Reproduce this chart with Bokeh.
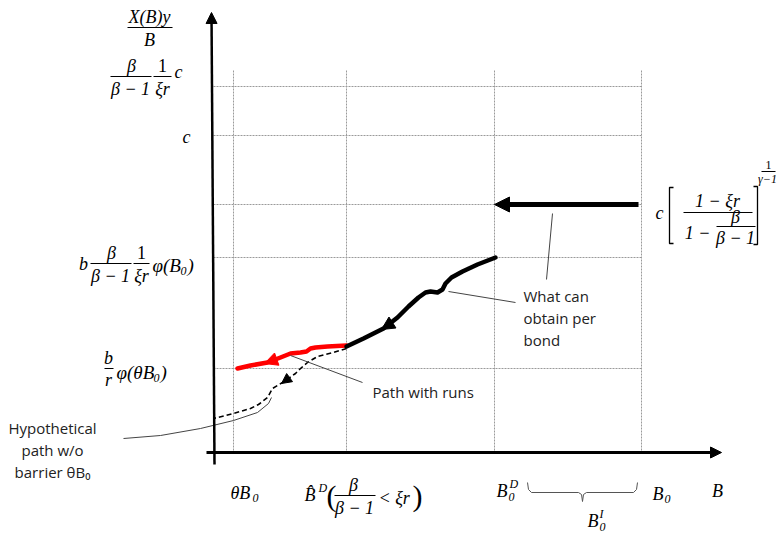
from bokeh.plotting import figure
from bokeh.models import Range1d, ColumnDataSource, Arrow, NormalHead
from bokeh.core.properties import value
from bokeh.embed import file_html
from bokeh.resources import INLINE

# ---------------- data (diagram coordinates) ----------------
GRID_X = [233, 346, 494, 641]          # theta*B0, B^D, B0^D, B0
GRID_Y = [86, 135, 204, 257, 368]      # levels on the vertical axis

BLACK_X = [495, 477, 462, 451, 445, 442, 437, 430, 425, 418, 408, 397, 383, 363, 346]
BLACK_Y = [257, 264, 271, 277, 283, 289, 292, 291, 292, 297, 306, 317, 328, 338, 346]

RED_X = [346, 327, 315, 310, 306, 300, 290, 280, 267, 250, 237]
RED_Y = [345, 346, 347, 348, 351, 352, 353, 357, 362, 365, 368]

DASH_X = [346, 333, 317, 307, 300, 295, 288, 282, 272, 267, 258, 250, 233, 213]
DASH_Y = [348, 352, 356, 362, 368, 373, 378, 382, 388, 397, 404, 408, 413, 418]

HYP_X = [123, 160, 200, 233, 257, 268, 271]
HYP_Y = [438, 435, 428, 420, 412, 403, 397]

MATH_FONT = "Liberation Serif"
SANS_FONT = "Open Sans"

W, H = 780, 534
p = figure(width=W, height=H, x_range=Range1d(0, W), y_range=Range1d(H, 0),
           x_axis_type=None, y_axis_type=None, toolbar_location=None,
           output_backend="svg", min_border=0, outline_line_color=None)
p.grid.visible = False
p.background_fill_color = "white"
p.border_fill_color = "white"

# grid lines (dotted)
GRID_TOP = 70
GRID_LEFT = 213
AXIS_Y = 452
p.segment(x0=GRID_X, y0=[GRID_TOP] * 4, x1=GRID_X, y1=[AXIS_Y] * 4,
          line_color="#9a9a9a", line_width=1, line_dash="2 1")
p.segment(x0=[GRID_LEFT] * 5, y0=GRID_Y, x1=[GRID_X[-1]] * 5, y1=GRID_Y,
          line_color="#9a9a9a", line_width=1, line_dash="2 1")

# axes with arrow heads
p.add_layout(Arrow(end=NormalHead(size=11, fill_color="black", line_color="black"),
                   x_start=214, y_start=464, x_end=211, y_end=12,
                   line_width=2.5, line_color="black"))
p.add_layout(Arrow(end=NormalHead(size=11, fill_color="black", line_color="black"),
                   x_start=206, y_start=AXIS_Y, x_end=721, y_end=AXIS_Y,
                   line_width=3, line_color="black"))

# big horizontal arrow
p.add_layout(Arrow(end=NormalHead(size=15, fill_color="black", line_color="black"),
                   x_start=638, y_start=204, x_end=494, y_end=204,
                   line_width=5, line_color="black"))

# paths
p.line(DASH_X, DASH_Y, line_color="black", line_width=1.6, line_dash="5 3")
p.line(RED_X, RED_Y, line_color="#ff0000", line_width=4.5, line_join="round", line_cap="round")
p.line(BLACK_X, BLACK_Y, line_color="black", line_width=4.5, line_join="round", line_cap="round")

# arrow heads on paths
p.add_layout(Arrow(end=NormalHead(size=13, fill_color="black", line_color="black"),
                   x_start=392, y_start=322, x_end=381, y_end=329, line_alpha=0))
p.add_layout(Arrow(end=NormalHead(size=13, fill_color="#ff0000", line_color="#ff0000"),
                   x_start=278, y_start=358, x_end=264, y_end=363, line_alpha=0))
p.add_layout(Arrow(end=NormalHead(size=10, fill_color="black", line_color="black"),
                   x_start=292, y_start=375, x_end=281, y_end=383, line_alpha=0))

# callout lines
p.line(HYP_X, HYP_Y, line_color="#444444", line_width=1)
p.segment(x0=[290, 448, 552], y0=[355, 291, 213], x1=[362, 515, 546], y1=[382, 302, 279],
          line_color="#444444", line_width=1)

# brace under x axis
p.multi_line(xs=[[527, 528, 531, 578, 581, 582], [582, 583, 586, 633, 636, 637]],
             ys=[[482, 489, 492, 492, 494, 501], [501, 494, 492, 492, 489, 482]],
             line_color="#555555", line_width=1)

# fraction bars and brackets
FRAC = [
    (127, 172, 27),   # X(B)y / B
    (110, 151, 76),   # beta/(beta-1)
    (153, 171, 76),   # 1/(xi r)
    (90, 131, 263),   # beta/(beta-1)
    (133, 149, 263),  # 1/(xi r)
    (104, 113, 368),  # b/r
    (683, 752, 212),  # (1-xi r)/(...)
    (716, 755, 226),  # beta/(beta-1)
    (761, 775, 171),  # 1/(gamma-1)
    (334, 375, 495),  # beta/(beta-1)
]
p.segment(x0=[f[0] for f in FRAC], x1=[f[1] for f in FRAC],
          y0=[f[2] for f in FRAC], y1=[f[2] for f in FRAC], line_color="black", line_width=1)
p.multi_line(xs=[[673, 669, 669, 673], [753, 757, 757, 753]],
             ys=[[187, 187, 243, 243], [186, 186, 244, 244]], line_color="black", line_width=1.3)

# math texts: (x, y, text, size, style, align)
M = 18
S = 12
MATH = [
    (149, 16, "X(B)y", M, "italic", "center"),
    (149, 39, "B", M, "italic", "center"),
    (131, 65, "β", M, "italic", "center"),
    (130, 88, "β − 1", M, "italic", "center"),
    (162, 65, "1", M, "normal", "center"),
    (162, 88, "ξr", M, "italic", "center"),
    (178, 71, "c", M, "italic", "center"),
    (186, 136, "c", M, "italic", "center"),
    (83, 263, "b", M, "italic", "center"),
    (111, 252, "β", M, "italic", "center"),
    (110, 275, "β − 1", M, "italic", "center"),
    (141, 252, "1", M, "normal", "center"),
    (141, 275, "ξr", M, "italic", "center"),
    (152, 265, "φ(B", 19, "italic", "left"),
    (180, 270, "0", S, "italic", "left"),
    (187, 265, ")", 19, "italic", "left"),
    (108, 357, "b", M, "italic", "center"),
    (108, 379, "r", M, "italic", "center"),
    (116, 372, "φ(θB", 19, "italic", "left"),
    (153, 377, "0", S, "italic", "left"),
    (160, 372, ")", 19, "italic", "left"),
    (659, 212, "c", M, "italic", "center"),
    (717, 200, "1 − ξr", M, "italic", "center"),
    (697, 232, "1 −", M, "italic", "center"),
    (735, 216, "β", M, "italic", "center"),
    (735, 237, "β − 1", M, "italic", "center"),
    (768, 164, "1", S, "normal", "center"),
    (767, 178, "γ−1", S, "italic", "center"),
    (230, 492, "θB", M, "italic", "left"),
    (252, 497, "0", S, "italic", "left"),
    (304, 494, "B̂", M, "italic", "left"),
    (318, 487, "D", S, "italic", "left"),
    (331, 495, "(", 30, "normal", "center"),
    (353, 484, "β", M, "italic", "center"),
    (354, 507, "β − 1", M, "italic", "center"),
    (378, 497, "< ξr", M, "italic", "left"),
    (417, 495, ")", 30, "normal", "center"),
    (496, 490, "B", M, "italic", "left"),
    (509, 483, "D", S, "italic", "left"),
    (508, 496, "0", S, "italic", "left"),
    (652, 493, "B", M, "italic", "left"),
    (664, 498, "0", S, "italic", "left"),
    (717, 490, "B", M, "italic", "center"),
    (587, 520, "B", M, "italic", "left"),
    (599, 513, "I", S, "italic", "left"),
    (599, 526, "0", S, "italic", "left"),
]
src_m = ColumnDataSource(dict(
    x=[t[0] for t in MATH], y=[t[1] for t in MATH], text=[t[2] for t in MATH],
    size=["%dpx" % t[3] for t in MATH], style=[t[4] for t in MATH], align=[t[5] for t in MATH]))
p.text(x="x", y="y", text="text", source=src_m, text_font=value(MATH_FONT),
       text_font_size="size", text_font_style="style", text_align="align",
       text_baseline="middle", text_color="black")

SANS = [
    (372, 391, "Path with runs", "left"),
    (523, 295, "What can", "left"),
    (523, 317, "obtain per", "left"),
    (523, 339, "bond", "left"),
    (52, 427, "Hypothetical", "center"),
    (52, 449, "path w/o", "center"),
    (52, 471, "barrier θB₀", "center"),
]
src_s = ColumnDataSource(dict(
    x=[t[0] for t in SANS], y=[t[1] for t in SANS], text=[t[2] for t in SANS],
    align=[t[3] for t in SANS]))
p.text(x="x", y="y", text="text", source=src_s, text_font=value(SANS_FONT),
       text_font_size="15px", text_align="align", text_baseline="middle", text_color="#222222")

open("out.html", "w").write(file_html(p, INLINE))
